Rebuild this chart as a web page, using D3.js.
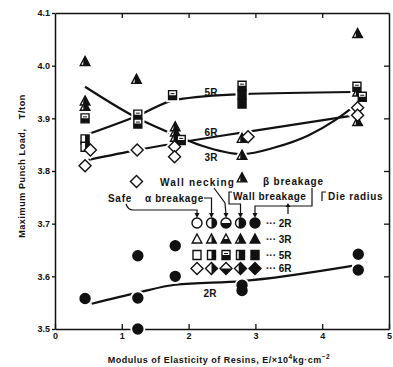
<!DOCTYPE html>
<html>
<head>
<meta charset="utf-8">
<script src="https://cdn.jsdelivr.net/npm/d3@7"></script>
<style>
  body { margin: 0; background: #fff; }
  svg text { font-family: "Liberation Sans", Arial, sans-serif; font-weight: bold; fill: #111; }
</style>
</head>
<body>
<div id="chart"></div>
<script>
// chart size
var svgWidth = 393;
var svgHeight = 367;

// axis ticks
var xTicks = [0, 1, 2, 3, 4, 5];
var yTicks = [3.5, 3.6, 3.7, 3.8, 3.9, 4.0, 4.1];

// fitted lines
var line2R_x = [0.55, 1.24, 1.8, 2.8, 4.45];
var line2R_y = [3.548, 3.569, 3.584, 3.591, 3.62];
var line3R_x = [0.45, 1.24, 1.8, 2.2, 2.8, 3.3, 3.8, 4.2, 4.5];
var line3R_y = [3.96, 3.90, 3.868, 3.848, 3.832, 3.845, 3.868, 3.897, 3.925];
var line5R_x = [0.45, 1.24, 1.8, 2.8, 4.45];
var line5R_y = [3.868, 3.905, 3.935, 3.946, 3.95];
var line6R_x = [0.5, 1.24, 2.0, 2.8, 4.5];
var line6R_y = [3.821, 3.84, 3.857, 3.873, 3.906];

// measured points, die radius 2R (circles)
var pts2R_x = [0.45, 1.24, 1.24, 1.24, 1.8, 1.8, 2.8, 2.8, 4.54, 4.54];
var pts2R_y = [3.558, 3.639, 3.559, 3.50, 3.658, 3.60, 3.583, 3.573, 3.642, 3.612];
var pts2R_t = ["beta", "beta", "beta", "beta", "beta", "beta", "beta", "beta", "beta", "beta"];

// 3R (triangles)
var pts3R_x = [0.45, 0.45, 0.45, 1.22, 1.8, 1.8, 1.8, 2.8, 2.8, 2.8, 4.53, 4.53, 4.53];
var pts3R_y = [4.008, 3.933, 3.923, 3.974, 3.884, 3.874, 3.864, 3.862, 3.83, 3.787, 4.061, 3.95, 3.894];
var pts3R_t = ["wall", "wall", "wall", "wall", "wall", "wall", "wall", "wall", "wall", "wall", "wall", "wall", "wall"];

// 5R (squares)
var pts5R_x = [0.45, 0.45, 0.45, 1.24, 1.24, 1.76, 1.89, 2.8, 2.8, 2.8, 4.52, 4.6];
var pts5R_y = [3.90, 3.86, 3.846, 3.907, 3.89, 3.944, 3.859, 3.962, 3.945, 3.928, 3.96, 3.941];
var pts5R_t = ["neck", "alpha", "alpha", "neck", "neck", "neck", "neck", "neck", "beta", "beta", "neck", "neck"];

// 6R (diamonds)
var pts6R_x = [0.45, 0.53, 1.23, 1.22, 1.79, 1.79, 2.89, 4.53, 4.53];
var pts6R_y = [3.81, 3.84, 3.84, 3.78, 3.846, 3.827, 3.865, 3.92, 3.906];
var pts6R_t = ["safe", "safe", "safe", "safe", "safe", "safe", "safe", "safe", "safe"];

// legend
var legendCols = ["safe", "alpha", "neck", "wall", "beta"];
var legendRows = ["2R", "3R", "5R", "6R"];
var legendShapes = ["circle", "triangle", "square", "diamond"];

var svg = d3.select("#chart").append("svg")
  .attr("width", svgWidth)
  .attr("height", svgHeight);

var x = d3.scaleLinear().domain([0, 5]).range([55, 389]);
var y = d3.scaleLinear().domain([3.5, 4.1]).range([329, 13]);

// clip paths for half-filled markers
var defs = svg.append("defs");
defs.append("clipPath").attr("id", "clip-alpha")
  .append("rect").attr("x", 0).attr("y", -10).attr("width", 10).attr("height", 20);
defs.append("clipPath").attr("id", "clip-neck")
  .append("rect").attr("x", -10).attr("y", 0).attr("width", 20).attr("height", 10);
defs.append("clipPath").attr("id", "clip-wall")
  .append("rect").attr("x", -1.8).attr("y", -10).attr("width", 12).attr("height", 20);

// axes
function styleAxis(g) {
  g.select(".domain").attr("stroke", "#111").attr("stroke-width", 1.5);
  g.selectAll(".tick line").attr("stroke", "#111").attr("stroke-width", 1.3);
  g.selectAll("text").attr("font-size", "9px").attr("font-family", null);
}

svg.append("g")
  .attr("transform", "translate(0,329)")
  .call(d3.axisBottom(x).tickValues(xTicks).tickSize(-5).tickSizeOuter(0).tickPadding(4).tickFormat(d3.format("d")))
  .call(styleAxis);

svg.append("g")
  .attr("transform", "translate(0,13)")
  .call(d3.axisTop(x).tickValues([1, 2, 3, 4]).tickSize(-5).tickSizeOuter(0).tickFormat(""))
  .call(styleAxis);

svg.append("g")
  .attr("transform", "translate(55,0)")
  .call(d3.axisLeft(y).tickValues(yTicks).tickSize(3).tickSizeOuter(0).tickPadding(2).tickFormat(d3.format(".1f")))
  .call(styleAxis);

svg.append("g")
  .attr("transform", "translate(389,0)")
  .call(d3.axisRight(y).tickValues([3.6, 3.7, 3.8, 3.9, 4.0]).tickSize(-5).tickSizeOuter(0).tickFormat(""))
  .call(styleAxis);

// axis titles
svg.append("text")
  .attr("x", 219).attr("y", 363)
  .attr("text-anchor", "middle")
  .attr("font-size", "9px")
  .attr("letter-spacing", "0.5px")
  .html("Modulus of Elasticity of Resins, E/×10<tspan dy='-4' font-size='6.5px'>4</tspan><tspan dy='4'>kg·cm</tspan><tspan dy='-4' font-size='6.5px'>−2</tspan>");

svg.append("text")
  .attr("transform", "translate(25,166) rotate(-90)")
  .attr("text-anchor", "middle")
  .attr("font-size", "9px")
  .attr("letter-spacing", "0.6px")
  .attr("xml:space", "preserve")
  .text("Maximum Punch Load,   T/ton");

// lines
var lineGen = d3.line().x(d => x(d[0])).y(d => y(d[1])).curve(d3.curveMonotoneX);
[[line2R_x, line2R_y], [line3R_x, line3R_y], [line5R_x, line5R_y], [line6R_x, line6R_y]].forEach(function(l) {
  svg.append("path")
    .datum(d3.zip(l[0], l[1]))
    .attr("d", lineGen)
    .attr("fill", "none")
    .attr("stroke", "#111")
    .attr("stroke-width", 2.2);
});

// marker shapes
function shapePath(shape) {
  if (shape == "circle") return "M-5,0A5,5 0 1,0 5,0A5,5 0 1,0 -5,0Z";
  if (shape == "triangle") return "M0,-5L4.8,4L-4.8,4Z";
  if (shape == "square") return "M-4,-4.5L4,-4.5L4,4.5L-4,4.5Z";
  return "M0,-6L6,0L0,6L-6,0Z";
}

function drawMarker(g, shape, type, cx, cy) {
  var m = g.append("g").attr("transform", `translate(${cx},${cy})`);
  m.append("path")
    .attr("d", shapePath(shape))
    .attr("fill", type == "beta" ? "#111" : "#fff")
    .attr("stroke", "#111")
    .attr("stroke-width", 1.4);
  if (type == "alpha" || type == "neck" || type == "wall") {
    m.append("path")
      .attr("d", shapePath(shape))
      .attr("fill", "#111")
      .attr("clip-path", `url(#clip-${type})`);
  }
  if (type == "neck" && shape == "square") {
    m.append("line").attr("x1", -2).attr("x2", 2).attr("y1", -1.5).attr("y2", -1.5)
      .attr("stroke", "#111").attr("stroke-width", 1);
  }
}

var allPts = [
  ["circle", pts2R_x, pts2R_y, pts2R_t],
  ["triangle", pts3R_x, pts3R_y, pts3R_t],
  ["square", pts5R_x, pts5R_y, pts5R_t],
  ["diamond", pts6R_x, pts6R_y, pts6R_t]
];

// white halos break the lines around markers
var haloGroup = svg.append("g");
allPts.forEach(function(s) {
  s[1].forEach(function(xv, i) {
    haloGroup.append("path")
      .attr("transform", `translate(${x(xv)},${y(s[2][i])})`)
      .attr("d", shapePath(s[0]))
      .attr("fill", "#fff").attr("stroke", "#fff").attr("stroke-width", 5);
  });
});

var markerGroup = svg.append("g");
allPts.forEach(function(s) {
  s[1].forEach(function(xv, i) {
    drawMarker(markerGroup, s[0], s[3][i], x(xv), y(s[2][i]));
  });
});

// curve labels
var curveLabels = [["5R", 211, 96], ["6R", 211, 136], ["3R", 211, 161], ["2R", 210, 297]];
curveLabels.forEach(function(c) {
  svg.append("text").attr("x", c[1]).attr("y", c[2])
    .attr("text-anchor", "middle").attr("font-size", "10px").text(c[0]);
});

// legend
var colX = [197, 211.5, 226, 240.5, 255];
var rowY = [223, 239, 255, 268.5];
var legend = svg.append("g");
legendRows.forEach(function(r, ri) {
  legendCols.forEach(function(t, ci) {
    drawMarker(legend, legendShapes[ri], t, colX[ci], rowY[ri]);
  });
  legend.append("text").attr("x", 266).attr("y", rowY[ri] + 3.5)
    .attr("font-size", "10px").attr("xml:space", "preserve").text("··· " + r);
});

var headers = [
  ["Wall necking", 160, 186, 1.2],
  ["β breakage", 263, 185, 0.8],
  ["Safe", 108, 202, 0.7],
  ["α breakage", 145, 202, 0.6],
  ["Wall breakage", 233, 200, 0.5],
  ["Die radius", 328, 200, 0.7]
];
headers.forEach(function(h) {
  legend.append("text").attr("x", h[1]).attr("y", h[2])
    .attr("font-size", "10px").attr("letter-spacing", h[3] + "px").text(h[0]);
});

var leaders = [
  "M126,204Q128,210 133,210L197,210L197,215",
  "M204,198L211.5,198L211.5,215",
  "M214,188L225,203L226,215",
  "M232,192L229,192L229,204L240.5,204L240.5,215",
  "M312,188L312,206L255,206L255,215",
  "M326,192L322,192L322,201",
  "M288,214L288,206"
];
leaders.forEach(function(p) {
  legend.append("path").attr("d", p).attr("fill", "none")
    .attr("stroke", "#111").attr("stroke-width", 1.2);
});
// arrow heads
colX.forEach(function(ax) {
  legend.append("path").attr("d", `M${ax - 2.5},213L${ax + 2.5},213L${ax},218Z`).attr("fill", "#111");
});
legend.append("path").attr("d", "M285.5,207L290.5,207L288,203Z").attr("fill", "#111");
</script>
</body>
</html>
